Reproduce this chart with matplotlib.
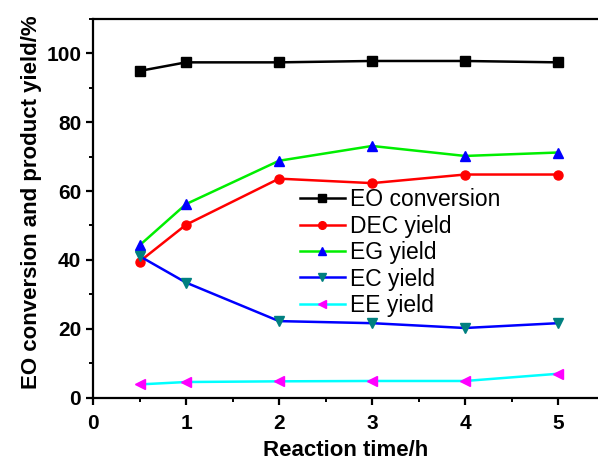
import matplotlib
matplotlib.use("Agg")
import matplotlib.pyplot as plt
from matplotlib.ticker import MultipleLocator

plt.rcParams["font.family"] = ["Liberation Sans", "DejaVu Sans"]

time_h = [0.5, 1, 2, 3, 4, 5]
eo_conv = [94.9, 97.4, 97.4, 97.8, 97.8, 97.4]
dec_yield = [39.5, 50.2, 63.6, 62.3, 64.8, 64.8]
eg_yield = [44.2, 56.2, 68.8, 73.1, 70.2, 71.2]
ec_yield = [41.1, 33.4, 22.2, 21.6, 20.2, 21.6]
ee_yield = [3.8, 4.5, 4.7, 4.8, 4.8, 6.9]

series = [
    ("EO conversion", eo_conv, "black", "s", "black"),
    ("DEC yield", dec_yield, "#ff0000", "o", "#ff0000"),
    ("EG yield", eg_yield, "#00ee00", "^", "#0000ff"),
    ("EC yield", ec_yield, "#0000ff", "v", "#008080"),
    ("EE yield", ee_yield, "#00ffff", "<", "#ff00ff"),
]

fig = plt.figure(figsize=(5.98, 4.62), dpi=100)
ax = fig.add_axes([93 / 598, 1 - 397.5 / 462, 1 - 93 / 598, (397.5 - 19) / 462])

for name, ys, lc, mk, mc in series:
    ax.plot(time_h, ys, color=lc, lw=1.8, marker=mk, ms=6.5,
            mfc=mc, mec=mc, label=name)

ax.set_xlim(0, 5.43)
ax.set_ylim(0, 110)
ax.xaxis.set_major_locator(MultipleLocator(1))
ax.xaxis.set_minor_locator(MultipleLocator(0.5))
ax.yaxis.set_major_locator(MultipleLocator(20))
ax.yaxis.set_minor_locator(MultipleLocator(10))
ax.spines["right"].set_visible(False)
for s in ("left", "bottom", "top"):
    ax.spines[s].set_linewidth(1.6)
ax.tick_params(which="major", direction="out", length=5, width=1.6,
               labelsize=15, top=False, right=False)
ax.tick_params(axis="x", which="major", pad=7)
ax.tick_params(which="minor", direction="out", length=3, width=1.4,
               top=False, right=False)
for lab in ax.get_xticklabels() + ax.get_yticklabels():
    lab.set_fontweight("bold")

ax.set_xlabel("Reaction time/h", fontsize=16, fontweight="bold", labelpad=5)
ax.set_ylabel("EO conversion and product yield/%", fontsize=16, fontweight="bold")
ax.yaxis.set_label_coords(-0.100, 0.515)

ax.legend(loc="upper left", bbox_to_anchor=(0.41, 0.553), frameon=False,
          prop={"size": 16.5, "weight": "medium"}, handlelength=1.95,
          handletextpad=0.25, labelspacing=0.15, markerscale=0.85,
          borderpad=0, borderaxespad=0)

fig.savefig("out.png", dpi=100)
